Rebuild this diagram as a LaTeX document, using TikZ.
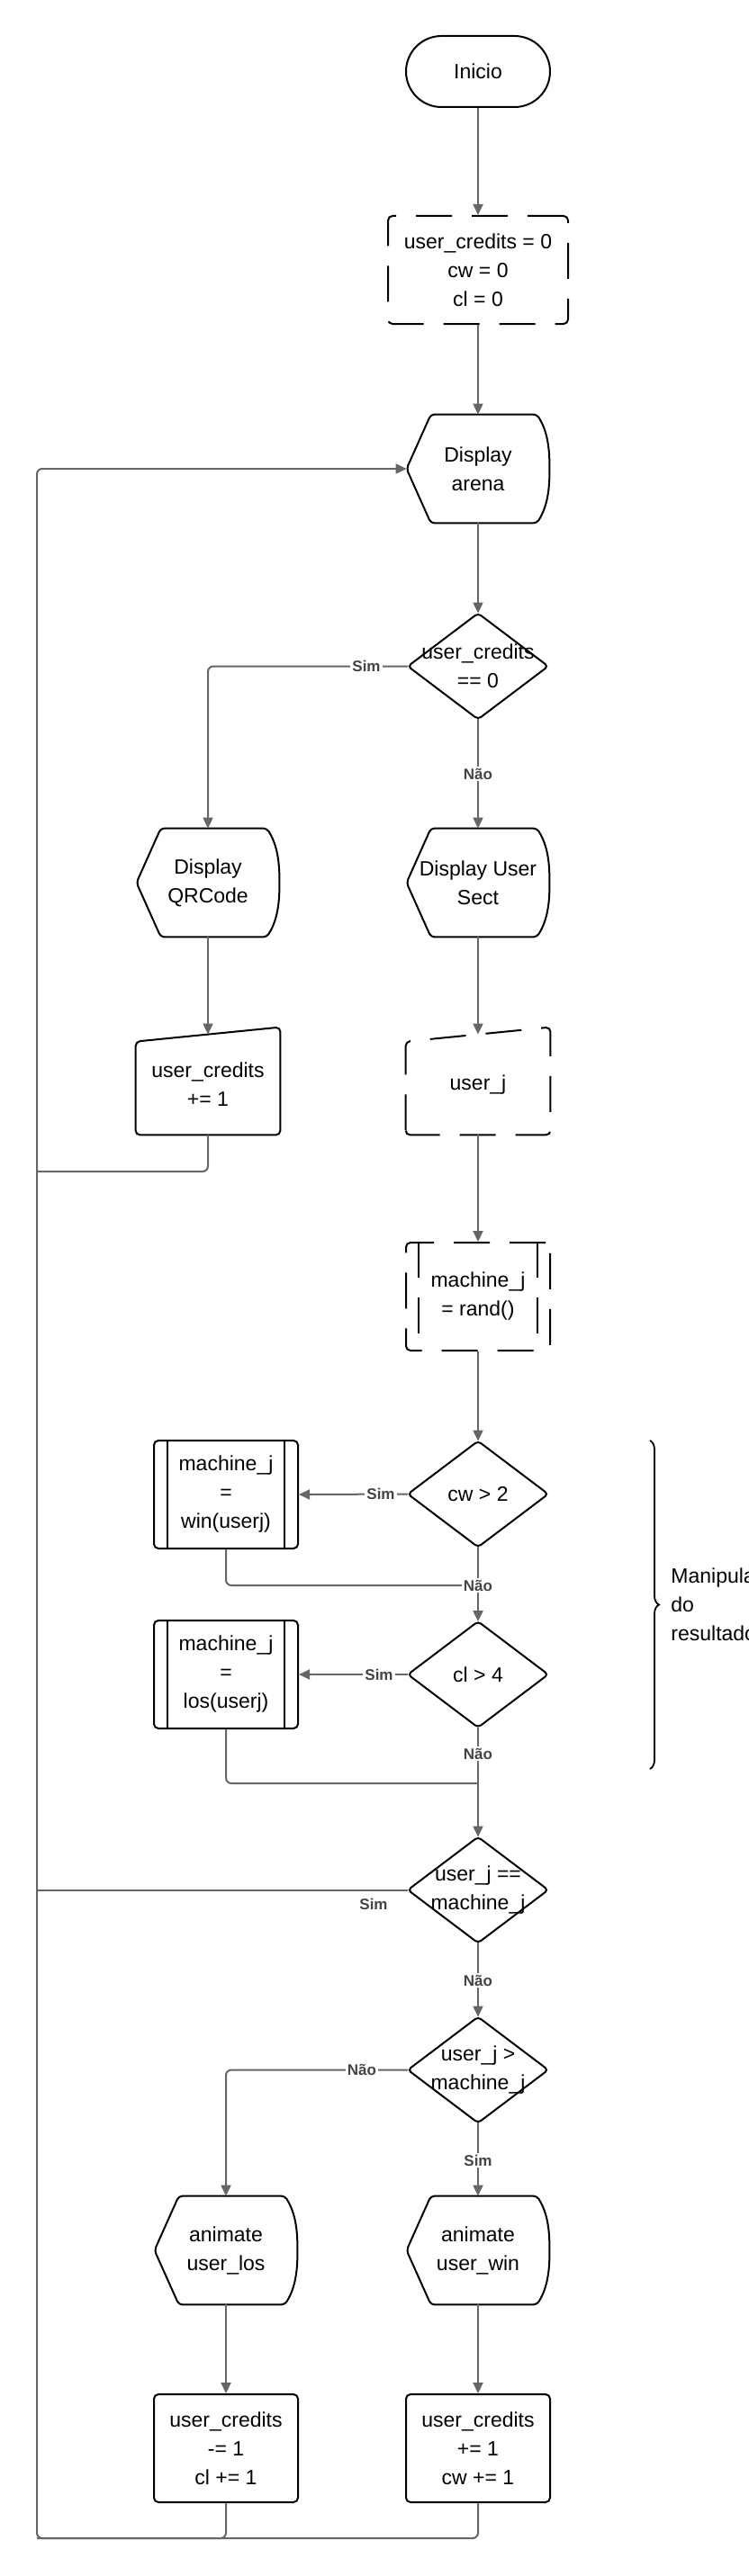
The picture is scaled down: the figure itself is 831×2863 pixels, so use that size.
\documentclass[tikz,border=0pt]{standalone}
\usepackage{fontspec}
\setmainfont{Liberation Sans}
\usetikzlibrary{arrows.meta,calc,decorations.pathreplacing}
\definecolor{connc}{HTML}{666666}
\definecolor{lblc}{HTML}{444444}
\newcommand\dispshape[1]{\draw[shapeline, rounded corners=2pt] (#1.west) -- ([xshift=13.5pt]#1.north west) -- ([xshift=-7pt]#1.north east) .. controls ([xshift=-2pt,yshift=-8pt]#1.north east) and ([yshift=14pt]#1.east) .. (#1.east) .. controls ([yshift=-14pt]#1.east) and ([xshift=-2pt,yshift=8pt]#1.south east) .. ([xshift=-7pt]#1.south east) -- ([xshift=13.5pt]#1.south west) -- cycle;}
\newcommand\diamshape[1]{\draw[shapeline, rounded corners=2pt] (#1.north) -- (#1.east) -- (#1.south) -- (#1.west) -- cycle;}
\newcommand\manshape[2][]{\draw[shapeline, rounded corners=2.5pt, #1] (#2.south west) -- ([yshift=-4pt]#2.north west) -- ([yshift=4pt]#2.north east) -- (#2.south east) -- cycle;}
\newcommand\subrlines[3][]{\draw[shapeline,#1] ([xshift=#3]#2.north west) -- ([xshift=#3]#2.south west); \draw[shapeline,#1] ([xshift=-#3]#2.north east) -- ([xshift=-#3]#2.south east);}
\begin{document}
\begin{tikzpicture}[x=0.5pt,y=-0.5pt,
  txt/.style={font=\fontsize{11.5}{16}\selectfont, align=center, inner sep=0pt, text=black},
  shapeline/.style={draw=black, line width=1pt},
  term/.style={txt, shapeline, rounded corners=19.75pt, minimum width=80pt, minimum height=39.5pt},
  procbox/.style={txt, shapeline, rounded corners=2.5pt, minimum width=80pt, minimum height=60pt},
  dashbox/.style={dash pattern=on 20pt off 11pt},
  hidden/.style={txt, minimum width=79pt, minimum height=60pt},
  decis/.style={txt, minimum width=77.5pt, minimum height=58.5pt},
  manin/.style={txt, minimum width=80pt, minimum height=55.5pt},
  conn/.style={draw=connc, line width=1pt, rounded corners=3pt},
  arr/.style={conn, -{Triangle[length=6pt,width=5.5pt]}},
  lbl/.style={font=\fontsize{8.5}{10}\selectfont\bfseries, text=lblc, fill=white, inner sep=1pt},
]
\useasboundingbox (0,0) rectangle (831,2863);
\clip (0,0) rectangle (831,2863);

% nodes
\node[term] (inicio) at (531,79.5) {Inicio};
\node[procbox, dashbox, minimum width=100pt] (init) at (531,300) {user\_credits = 0\\cw = 0\\cl = 0};
\node[hidden] (arena) at (531,521) {Display\\arena};
\node[decis] (d1) at (531,740.5) {user\_credits\\== 0};
\node[hidden] (qr) at (231,981) {Display\\QRCode};
\node[hidden] (us) at (531,981) {Display User\\Sect};
\node[manin] (uc1) at (231,1205.5) {user\_credits\\+= 1};
\node[manin] (uj) at (531,1205.5) {user\_j};
\node[procbox, dashbox] (rand) at (531,1441) {machine\_j\\= rand()};
\node[decis] (dcw) at (531,1660.5) {cw > 2};
\node[procbox] (win) at (251,1661) {machine\_j\\=\\win(userj)};
\node[decis] (dcl) at (531,1861) {cl > 4};
\node[procbox] (los) at (251,1861) {machine\_j\\=\\los(userj)};
\node[decis] (deq) at (531,2100.5) {user\_j ==\\machine\_j};
\node[decis] (dgt) at (531,2300.5) {user\_j >\\machine\_j};
\node[hidden] (alos) at (251,2501) {animate\\user\_los};
\node[hidden] (awin) at (531,2501) {animate\\user\_win};
\node[procbox] (ucl) at (251,2721) {user\_credits\\-= 1\\cl += 1};
\node[procbox] (ucw) at (531,2721) {user\_credits\\+= 1\\cw += 1};

% shapes
\dispshape{arena}
\dispshape{qr}
\dispshape{us}
\dispshape{alos}
\dispshape{awin}
\diamshape{d1}
\diamshape{dcw}
\diamshape{dcl}
\diamshape{deq}
\diamshape{dgt}
\manshape{uc1}
\manshape[dashbox]{uj}
\subrlines{win}{8pt}
\subrlines{los}{8pt}
\subrlines[dashbox]{rand}{7.5pt}

% coordinates
\coordinate (cbl) at (41,2821);
\coordinate (cl1) at (41,1302);
\coordinate (j1) at (531,1762);
\coordinate (j2) at (531,1982);
\coordinate (br1) at (722,1601);
\coordinate (br2) at (722,1966);

% connectors
\draw[arr] (inicio.south) -- (init.north);
\draw[arr] (init.south) -- (arena.north);
\draw[arr] (arena.south) -- (d1.north);
\draw[arr] (d1.west) -| (qr.north);
\draw[arr] (d1.south) -- (us.north);
\draw[arr] (qr.south) -- (uc1.north);
\draw[arr] (us.south) -- (uj.north);
\draw[conn] (uc1.south) |- (cl1);
\draw[arr] (uj.south) -- (rand.north);
\draw[arr] (rand.south) -- (dcw.north);
\draw[arr] (dcw.west) -- (win.east);
\draw[arr] (dcw.south) -- (dcl.north);
\draw[conn] (win.south) |- (j1);
\draw[arr] (dcl.west) -- (los.east);
\draw[arr] (dcl.south) -- (deq.north);
\draw[conn] (los.south) |- (j2);
\draw[conn] (deq.west) -- (deq.west -| cbl);
\draw[arr] (deq.south) -- (dgt.north);
\draw[arr] (dgt.west) -| (alos.north);
\draw[arr] (dgt.south) -- (awin.north);
\draw[arr] (alos.south) -- (ucl.north);
\draw[arr] (awin.south) -- (ucw.north);
\draw[conn] (ucl.south) |- (cbl);
\draw[arr] (ucw.south) |- (cbl) |- (arena.west);

% labels
\node[lbl] (l1) at (407,740) {Sim};
\node[lbl] (l2) at (531,860) {Não};
\node[lbl] (l3) at (423,1660) {Sim};
\node[lbl] (l4) at (531,1762) {Não};
\node[lbl] (l5) at (421,1861) {Sim};
\node[lbl] (l6) at (531,1949) {Não};
\node[lbl, fill=none] (l7) at (415,2116) {Sim};
\node[lbl] (l8) at (531,2201) {Não};
\node[lbl] (l9) at (402,2300) {Não};
\node[lbl] (l10) at (531,2401) {Sim};

% brace and note
\draw[decorate, decoration={brace, amplitude=5pt}, line width=0.9pt] (br1) -- (br2);
\node[txt, align=left, anchor=west] (manip) at (745,1783) {Manipulação\\do\\resultado};
\end{tikzpicture}
\end{document}
